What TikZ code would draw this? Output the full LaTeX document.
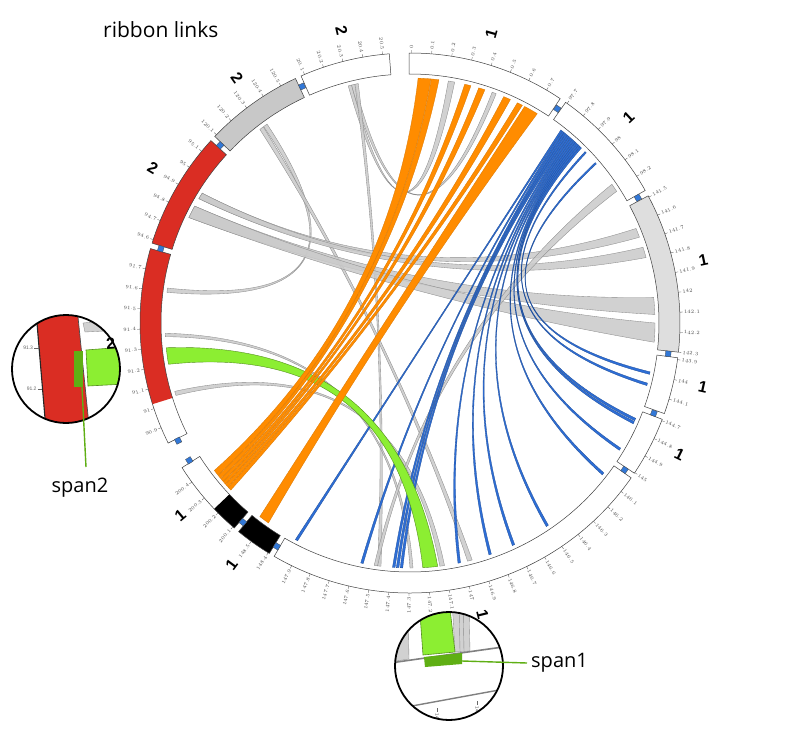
\documentclass[tikz,border=0pt]{standalone}
\usepackage{fontspec}
\usetikzlibrary{calc}
\setmainfont{Open Sans}
\newfontfamily\labfont{Liberation Sans}
\definecolor{orib}{RGB}{255,140,0}
\definecolor{brib}{RGB}{45,110,215}
\definecolor{grib}{RGB}{202,202,202}
\definecolor{lgreen}{RGB}{140,238,50}
\definecolor{dgreen}{RGB}{95,175,20}
\definecolor{redseg}{RGB}{218,45,35}
\definecolor{greyseg}{RGB}{200,200,200}
\definecolor{lgreyseg}{RGB}{222,222,222}
\definecolor{markc}{RGB}{50,120,215}
\tikzset{
 segline/.style={draw=black!75, line width=0.5pt},
 tickline/.style={draw=black!70, line width=0.3pt},
 ticklab/.style={font=\labfont\fontsize{3.2}{3.4}\selectfont, text=black!70, inner sep=0pt},
 seglab/.style={font=\labfont\bfseries\fontsize{16}{16}\selectfont, inner sep=0pt},
 bmarker/.style={rectangle, draw=black!70, fill=markc, minimum size=5.5pt, inner sep=0pt, line width=0.3pt},
 grst/.style={fill=grib, fill opacity=0.85, draw=black!45, line width=0.35pt},
 blst/.style={fill=brib, draw=brib!70!black, line width=0.3pt},
 orst/.style={fill=orib, draw=orib!85!black, line width=0.3pt},
 gnst/.style={fill=lgreen, draw=lgreen!60!black, line width=0.4pt},
 spanfont/.style={font=\fontsize{20}{20}\selectfont, inner sep=0pt},
 smalltick/.style={font=\labfont\fontsize{5}{5}\selectfont, text=black!60, inner sep=0.3pt},
}
\newcommand\segm[3]{%
 \path[#1] ({90-(#2)}:270) arc[start angle={90-(#2)}, end angle={90-(#3)}, radius=270]
  -- ({90-(#3)}:249) arc[start angle={90-(#3)}, end angle={90-(#2)}, radius=249] -- cycle;}
% ribbon: quadratic bezier edges whose control point lies 22 units from the centre along the bisector
\newcommand\ribbon[5]{%
 \pgfmathsetmacro\mA{(#3+#4)/2+(abs(#3-#4)>180)*180}%
 \pgfmathsetmacro\mB{(#5+#2)/2+(abs(#5-#2)>180)*180}%
 \path[#1] ({90-(#2)}:245) arc[start angle={90-(#2)}, end angle={90-(#3)}, radius=245]
  .. controls ($({90-(#3)}:81.7)+({90-\mA}:14.7)$) and ($({90-(#4)}:81.7)+({90-\mA}:14.7)$) .. ({90-(#4)}:245)
  arc[start angle={90-(#4)}, end angle={90-(#5)}, radius=245]
  .. controls ($({90-(#5)}:81.7)+({90-\mB}:14.7)$) and ($({90-(#2)}:81.7)+({90-\mB}:14.7)$) .. ({90-(#2)}:245) -- cycle;}
\newcommand\ticks[5]{%
 \foreach \i in {0,...,#3}{%
   \pgfmathsetmacro\th{#2+#5*\i}%
   \pgfmathsetmacro\vv{#4+0.1*\i}%
   \pgfmathtruncatemacro\isright{\th<180}%
   \draw[tickline] ({90-\th}:270) -- ({90-\th}:273);
   \ifnum\isright=1
     \node[ticklab,anchor=west,rotate={90-\th}] (tk#1-\i) at ({90-\th}:274) {\pgfmathprintnumber{\vv}};
   \else
     \node[ticklab,anchor=east,rotate={270-\th}] (tk#1-\i) at ({90-\th}:274) {\pgfmathprintnumber{\vv}};
   \fi}}
\newcommand\seglabel[3]{%
 \pgfmathtruncatemacro\isright{#2<180}%
 \ifnum\isright=1
   \node[seglab, rotate={90-(#2)}] (#1) at ({90-(#2)}:300) {#3};
 \else
   \node[seglab, rotate={270-(#2)}] (#1) at ({90-(#2)}:300) {#3};
 \fi}
\begin{document}
\begin{tikzpicture}[x=1pt,y=1pt]
\useasboundingbox[fill=white] (-410,-406) rectangle (377,323);

% ---------- ring segments ----------
\segm{fill=white}{-0.2}{33.8}
\segm{fill=white}{35.2}{60.6}
\segm{fill=lgreyseg}{61.9}{96.2}
\segm{fill=white}{97.4}{109.6}
\segm{fill=white}{110.9}{123.8}
\segm{fill=white}{125.0}{210.2}
\segm{fill=black}{211.4}{219.4}
\segm{fill=white}{220.6}{237.6}
\segm{fill=black}{220.6}{226.5}
\segm{fill=white}{243.6}{286.0}
\segm{fill=redseg}{252.5}{286.0}
\segm{fill=redseg}{287.2}{312.5}
\segm{fill=greyseg}{313.7}{334.9}
\segm{fill=white}{336.2}{355.6}
\foreach \a/\b in {-0.2/33.8,35.2/60.6,61.9/96.2,97.4/109.6,110.9/123.8,125.0/210.2,211.4/219.4,220.6/237.6,243.6/286.0,287.2/312.5,313.7/334.9,336.2/355.6}{\segm{segline}{\a}{\b}}

% ---------- ticks ----------
\ticks{1}{0.3}{7}{0}{4.3}
\ticks{2}{35.6}{5}{97.7}{4.3}
\ticks{3}{62.2}{8}{141.5}{4.25}
\ticks{4}{97.8}{2}{143.9}{4.3}
\ticks{5}{111.2}{3}{144.7}{4.15}
\ticks{6}{128.6}{18}{146.1}{4.3}
\ticks{7}{211.7}{1}{148.4}{4.3}
\ticks{8}{221.0}{3}{200.1}{4.3}
\ticks{9}{247.2}{8}{90.9}{4.3}
\ticks{10}{288.0}{5}{94.6}{4.3}
\ticks{11}{314.2}{4}{120.1}{4.3}
\ticks{12}{337.0}{4}{20.1}{4.3}

% ---------- markers ----------
\foreach \t [count=\k] in {335.5,34.5,61.2,96.8,110.3,124.4,210.8,220.0,238.1,243.1,286.6,313.1}{
  \node[bmarker, rotate={90-\t}] (mk\k) at ({90-\t}:260) {};}

% ---------- grey ribbons ----------
\ribbon{grst}{345.4}{346.2}{9.0}{10.5}
\ribbon{grst}{346.2}{347.0}{19.6}{20.6}
\ribbon{grst}{347.0}{347.8}{186.8}{187.6}
\ribbon{grst}{323.3}{324.3}{277.2}{278.2}
\ribbon{grst}{322.2}{323.2}{165.3}{166.4}
\ribbon{grst}{300.5}{302.0}{67.3}{69.5}
\ribbon{grst}{300.5}{302.0}{72.0}{74.5}
\ribbon{grst}{295.5}{298.5}{84.0}{88.0}
\ribbon{grst}{295.5}{298.5}{90.0}{94.5}
\ribbon{grst}{266.8}{267.6}{179.3}{180.0}
\ribbon{grst}{252.8}{253.8}{171.9}{173.0}
\ribbon{grst}{55.5}{57.5}{187.6}{188.4}

% ---------- blue ribbons ----------
\foreach \s/\e in {38.0/207.3,38.5/191.0,39.0/183.5,39.5/182.6,40.0/181.7,40.5/168.1,41.0/160.6,41.5/154.7,42.0/145.6,42.5/127.7,43.0/120.7,43.5/113.7,44.0/112.9,45.6/104.2,49.1/101.5}{
  \pgfmathsetmacro\sE{\s+0.42}\pgfmathsetmacro\eE{\e+0.6}
  \ribbon{blst}{\s}{\sE}{\e}{\eE}}

% ---------- green ribbon ----------
\ribbon{gnst}{260.3}{264.2}{173.5}{177.0}

% ---------- orange ribbons ----------
\ribbon{orst}{1.9}{4.9}{231.6}{233.0}
\ribbon{orst}{5.0}{6.8}{230.6}{231.5}
\ribbon{orst}{12.9}{14.4}{229.7}{230.5}
\ribbon{orst}{16.3}{17.8}{228.9}{229.6}
\ribbon{orst}{22.5}{24.2}{228.0}{228.8}
\ribbon{orst}{26.0}{27.3}{227.0}{227.9}
\ribbon{orst}{27.9}{31.3}{215.3}{217.8}

% ---------- image-coordinate parts ----------
\begin{scope}[cm={1,0,0,-1,(-410,323)}]
 \node[anchor=base west, font=\fontsize{21}{21}\selectfont, inner sep=0pt] (title) at (103,37) {ribbon links};
 % magnifier span2
 \fill[white] (66,369) circle[radius=54];
 \begin{scope}
  \clip (66,369) circle[radius=54];
  \fill[redseg] (35.9,310) -- (77.3,310) -- (89.5,430) -- (46,430) -- cycle;
  \draw[black!85, line width=1.1pt] (35.9,310) -- (46,430);
  \draw[black!70, line width=0.7pt] (77.3,310) -- (89.5,430);
  \draw[black!60, line width=0.5pt] (34.5,348) -- (39.1,348) (38,389) -- (42.5,389);
  \node[smalltick, anchor=east] (m1a) at (33.5,348) {91.3};
  \node[smalltick, anchor=east] (m1b) at (37,389) {91.2};
  \filldraw[grst] (83,323) -- (125,319) -- (125,330) -- (85,332) -- cycle;
  \filldraw[gnst, line width=0.6pt] (86,350) -- (125,347) -- (125,384) -- (88,386) -- cycle;
  \fill[dgreen] (74,351) rectangle (83,387);
 \end{scope}
 \draw[black, line width=1.8pt] (66,369) circle[radius=54];
 \draw[dgreen, line width=1.4pt] (82,387) -- (86,467);
 \node[spanfont] (span2) at (80,488) {span2};
 % magnifier span1
 \fill[white] (449,666) circle[radius=54];
 \begin{scope}
  \clip (449,666) circle[radius=54];
  \filldraw[grst] (396,600) -- (408,600) -- (409,659) -- (396,661) -- cycle;
  \filldraw[grst] (452,600) -- (469,600) -- (470,651) -- (455,652) -- cycle;
  \draw[black!45, line width=0.4pt] (459,600) -- (460,651) (463,600) -- (464,651);
  \filldraw[gnst, line width=0.6pt] (419,600) -- (449,600) -- (455,652) -- (423,655) -- cycle;
  \draw[black!50, line width=1.6pt] (390,663) -- (510,646);
  \fill[dgreen] (424,657) -- (462,653) -- (462,664) -- (425,667) -- cycle;
  \draw[black!50, line width=1.4pt] (390,710) -- (510,688);
  \draw[black!60, line width=0.5pt] (437,708) -- (437,712) (477,701) -- (477,705);
  \node[smalltick, anchor=west, rotate=-86] (m2a) at (437,713) {147.2};
  \node[smalltick, anchor=west, rotate=-86] (m2b) at (477,706) {147.1};
 \end{scope}
 \draw[black, line width=1.8pt] (449,666) circle[radius=54];
 \draw[dgreen, line width=1.4pt] (462,661) -- (527,663);
 \node[spanfont, anchor=west] (span1) at (531,663) {span1};
\end{scope}

% ---------- segment labels ----------
\seglabel{L12}{346.8}{2}
\seglabel{L1}{15.7}{1}
\seglabel{L2}{46.8}{1}
\seglabel{L3}{78}{1}
\seglabel{L4}{102.4}{1}
\seglabel{L5}{116}{1}
\seglabel{L6}{166}{1}
\seglabel{L7}{216.5}{1}
\seglabel{L8}{230}{1}
\seglabel{L9}{266}{2}
\seglabel{L10}{301}{2}
\seglabel{L11}{324.8}{2}
\end{tikzpicture}
\end{document}
